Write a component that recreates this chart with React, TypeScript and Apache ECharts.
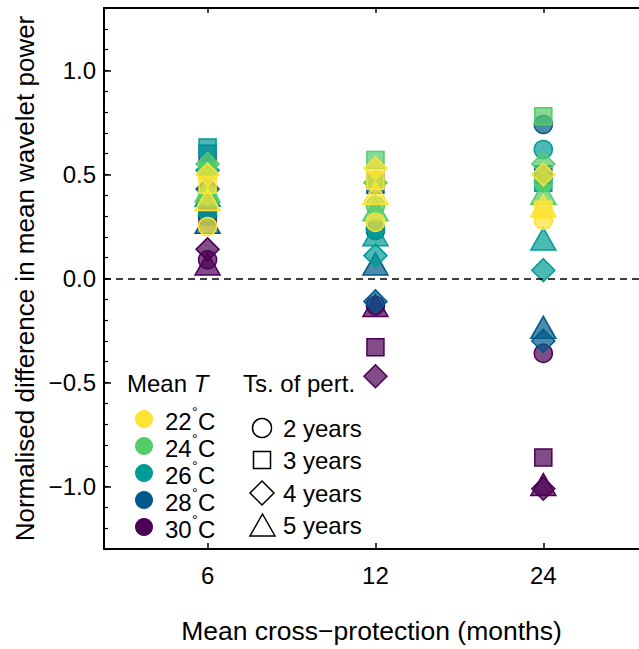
import React, { useEffect, useRef } from 'react';
import * as echarts from 'echarts';

const xCategories = ['6', '12', '24'];
const tempLabels = ['22', '24', '26', '28', '30'];
const tempColors = ['#FDE333', '#53CC67', '#009B95', '#00588B', '#4B0055'];
const shapeLabels = ['2 years', '3 years', '4 years', '5 years'];
const yTickValues = [-1, -0.5, 0, 0.5, 1];

// rows: 22, 24, 26, 28, 30 °C ; columns: 6, 12, 24 months
const circleValues = [
  [0.25, 0.27, 0.28],
  [0.40, 0.35, 0.46],
  [0.32, 0.24, 0.62],
  [0.30, 0.23, 0.74],
  [0.09, -0.13, -0.36],
];
const squareValues = [
  [0.45, 0.47, 0.33],
  [0.52, 0.57, 0.78],
  [0.63, 0.47, 0.46],
  [0.60, 0.45, 0.50],
  [0.30, -0.33, -0.86],
];
const diamondValues = [
  [0.50, 0.53, 0.50],
  [0.55, 0.46, 0.55],
  [0.52, 0.11, 0.04],
  [0.43, -0.11, -0.30],
  [0.14, -0.47, -1.01],
];
const triangleValues = [
  [0.38, 0.41, 0.35],
  [0.42, 0.33, 0.41],
  [0.40, 0.21, 0.19],
  [0.27, 0.07, -0.235],
  [0.07, -0.13, -0.99],
];

const FONT = '"Liberation Sans", Arial, Helvetica, sans-serif';

function hexToRgba(hex: string, a: number) {
  const r = parseInt(hex.slice(1, 3), 16);
  const g = parseInt(hex.slice(3, 5), 16);
  const b = parseInt(hex.slice(5, 7), 16);
  return `rgba(${r},${g},${b},${a})`;
}

export default function App() {
  const ref = useRef<HTMLDivElement>(null);
  useEffect(() => {
    if (!ref.current) return;
    const chart = echarts.init(ref.current, null, { renderer: 'svg' });

    const shapes = [
      { symbol: 'circle', size: 18, values: circleValues },
      { symbol: 'rect', size: 17, values: squareValues },
      { symbol: 'diamond', size: 23, values: diamondValues },
      { symbol: 'triangle', size: [25, 22], values: triangleValues },
    ];

    const series: any[] = [];
    for (let t = tempLabels.length - 1; t >= 0; t--) {
      shapes.forEach((sh) => {
        series.push({
          type: 'scatter',
          name: `${tempLabels[t]}-${sh.symbol}`,
          symbol: sh.symbol,
          symbolSize: sh.size,
          data: xCategories.map((_, i) => [i, sh.values[t][i]]),
          itemStyle: {
            color: hexToRgba(tempColors[t], 0.7),
            borderColor: tempColors[t],
            borderWidth: 1.5,
            opacity: 1,
          },
          silent: true,
        });
      });
    }
    series[0].markLine = {
      silent: true,
      symbol: 'none',
      label: { show: false },
      lineStyle: { type: [7, 5], color: '#000', width: 1.5 },
      data: [{ yAxis: 0 }],
    };

    const graphics: any[] = [];
    const txt = (x: number, y: number, text: string, size = 24, extra: any = {}) => ({
      type: 'text',
      x,
      y,
      style: {
        text,
        fontFamily: FONT,
        fontSize: size,
        fill: '#000',
        textVerticalAlign: 'middle',
        textAlign: 'left',
        ...extra,
      },
      silent: true,
    });

    graphics.push({
      type: 'text',
      x: 127,
      y: 383,
      style: {
        text: '{n|Mean }{i|T}',
        rich: {
          n: { fontFamily: FONT, fontSize: 24, fill: '#000' },
          i: { fontFamily: FONT, fontSize: 24, fontStyle: 'italic', fill: '#000' },
        },
        textVerticalAlign: 'middle',
      },
      silent: true,
    });
    graphics.push(txt(243, 383, 'Ts. of pert.'));

    const tempY = [419, 446, 473, 500, 527];
    tempLabels.forEach((lab, i) => {
      graphics.push({
        type: 'circle',
        shape: { cx: 144, cy: tempY[i], r: 9 },
        style: { fill: tempColors[i] },
        silent: true,
      });
      graphics.push(txt(165, tempY[i] + 2, lab));
      graphics.push(txt(192, tempY[i] - 7, '°', 14));
      graphics.push(txt(198, tempY[i] + 2, 'C'));
    });

    const shapeY = [428, 460, 493, 525];
    const stroke = { fill: 'none', stroke: '#000', lineWidth: 1.5 };
    graphics.push({ type: 'circle', shape: { cx: 262, cy: shapeY[0], r: 9.5 }, style: stroke, silent: true });
    graphics.push({ type: 'rect', shape: { x: 253.5, y: shapeY[1] - 8.5, width: 17, height: 17 }, style: stroke, silent: true });
    graphics.push({
      type: 'polygon',
      shape: { points: [[262, shapeY[2] - 12], [274, shapeY[2]], [262, shapeY[2] + 12], [250, shapeY[2]]] },
      style: stroke,
      silent: true,
    });
    graphics.push({
      type: 'polygon',
      shape: { points: [[262.5, shapeY[3] - 11], [275, shapeY[3] + 11], [250, shapeY[3] + 11]] },
      style: stroke,
      silent: true,
    });
    shapeLabels.forEach((lab, i) => {
      graphics.push(txt(283, shapeY[i], lab));
    });

    const xMin = -0.617;
    const xMax = 2.57;

    chart.setOption({
      animation: false,
      backgroundColor: '#fff',
      grid: { left: 104, top: 8, width: 537, bottom: 97, containLabel: false },
      xAxis: [
        {
          type: 'value',
          position: 'bottom',
          min: xMin,
          max: xMax,
          splitLine: { show: false },
          axisLine: { show: true, onZero: false, lineStyle: { color: '#000', width: 2 } },
          axisTick: { show: true, inside: true, length: 6, customValues: [0, 1, 2], lineStyle: { color: '#000', width: 1.5 } },
          axisLabel: {
            show: true,
            customValues: [0, 1, 2],
            formatter: (v: number) => xCategories[Math.round(v)],
            fontSize: 24,
            fontFamily: FONT,
            color: '#000',
            margin: 14,
          },
          name: 'Mean cross\u2212protection (months)',
          nameLocation: 'middle',
          nameGap: 68,
          nameTextStyle: { fontSize: 26.5, fontFamily: FONT, color: '#000' },
        },
        {
          type: 'value',
          position: 'top',
          min: xMin,
          max: xMax,
          splitLine: { show: false },
          axisLine: { show: true, onZero: false, lineStyle: { color: '#000', width: 2 } },
          axisTick: { show: true, inside: true, length: 5, customValues: [0, 1, 2], lineStyle: { color: '#000', width: 1.5 } },
          axisLabel: { show: false },
        },
      ],
      yAxis: [
        {
          type: 'value',
          position: 'left',
          min: -1.3,
          max: 1.3,
          interval: 0.1,
          splitLine: { show: false },
          axisLine: { show: true, onZero: false, lineStyle: { color: '#000', width: 2 } },
          axisTick: { show: false },
          axisLabel: {
            show: true,
            customValues: yTickValues,
            formatter: (v: number) => (v < 0 ? '\u2212' + Math.abs(v).toFixed(1) : v.toFixed(1)),
            fontSize: 24,
            fontFamily: FONT,
            color: '#000',
            margin: 8,
          },
          name: 'Normalised difference in mean wavelet power',
          nameLocation: 'middle',
          nameGap: 58,
          nameTextStyle: { fontSize: 26, fontFamily: FONT, color: '#000' },
        },
        {
          type: 'value',
          position: 'left',
          min: -1.3,
          max: 1.3,
          splitLine: { show: false },
          axisLine: { show: false, onZero: false },
          axisTick: { show: true, inside: true, length: 7, customValues: yTickValues, lineStyle: { color: '#000', width: 1.5 } },
          axisLabel: { show: false },
        },
        {
          type: 'value',
          position: 'left',
          min: -1.3,
          max: 1.3,
          interval: 0.1,
          splitLine: { show: false },
          axisLine: { show: false, onZero: false },
          axisTick: { show: true, inside: true, length: 4, lineStyle: { color: '#000', width: 1.2 } },
          axisLabel: { show: false },
        },
      ],
      series,
      graphic: graphics,
    });

    return () => chart.dispose();
  }, []);

  return (
    <div
      ref={ref}
      style={{ position: 'fixed', left: 0, top: 0, width: 639, height: 649, background: '#fff' }}
    />
  );
}
